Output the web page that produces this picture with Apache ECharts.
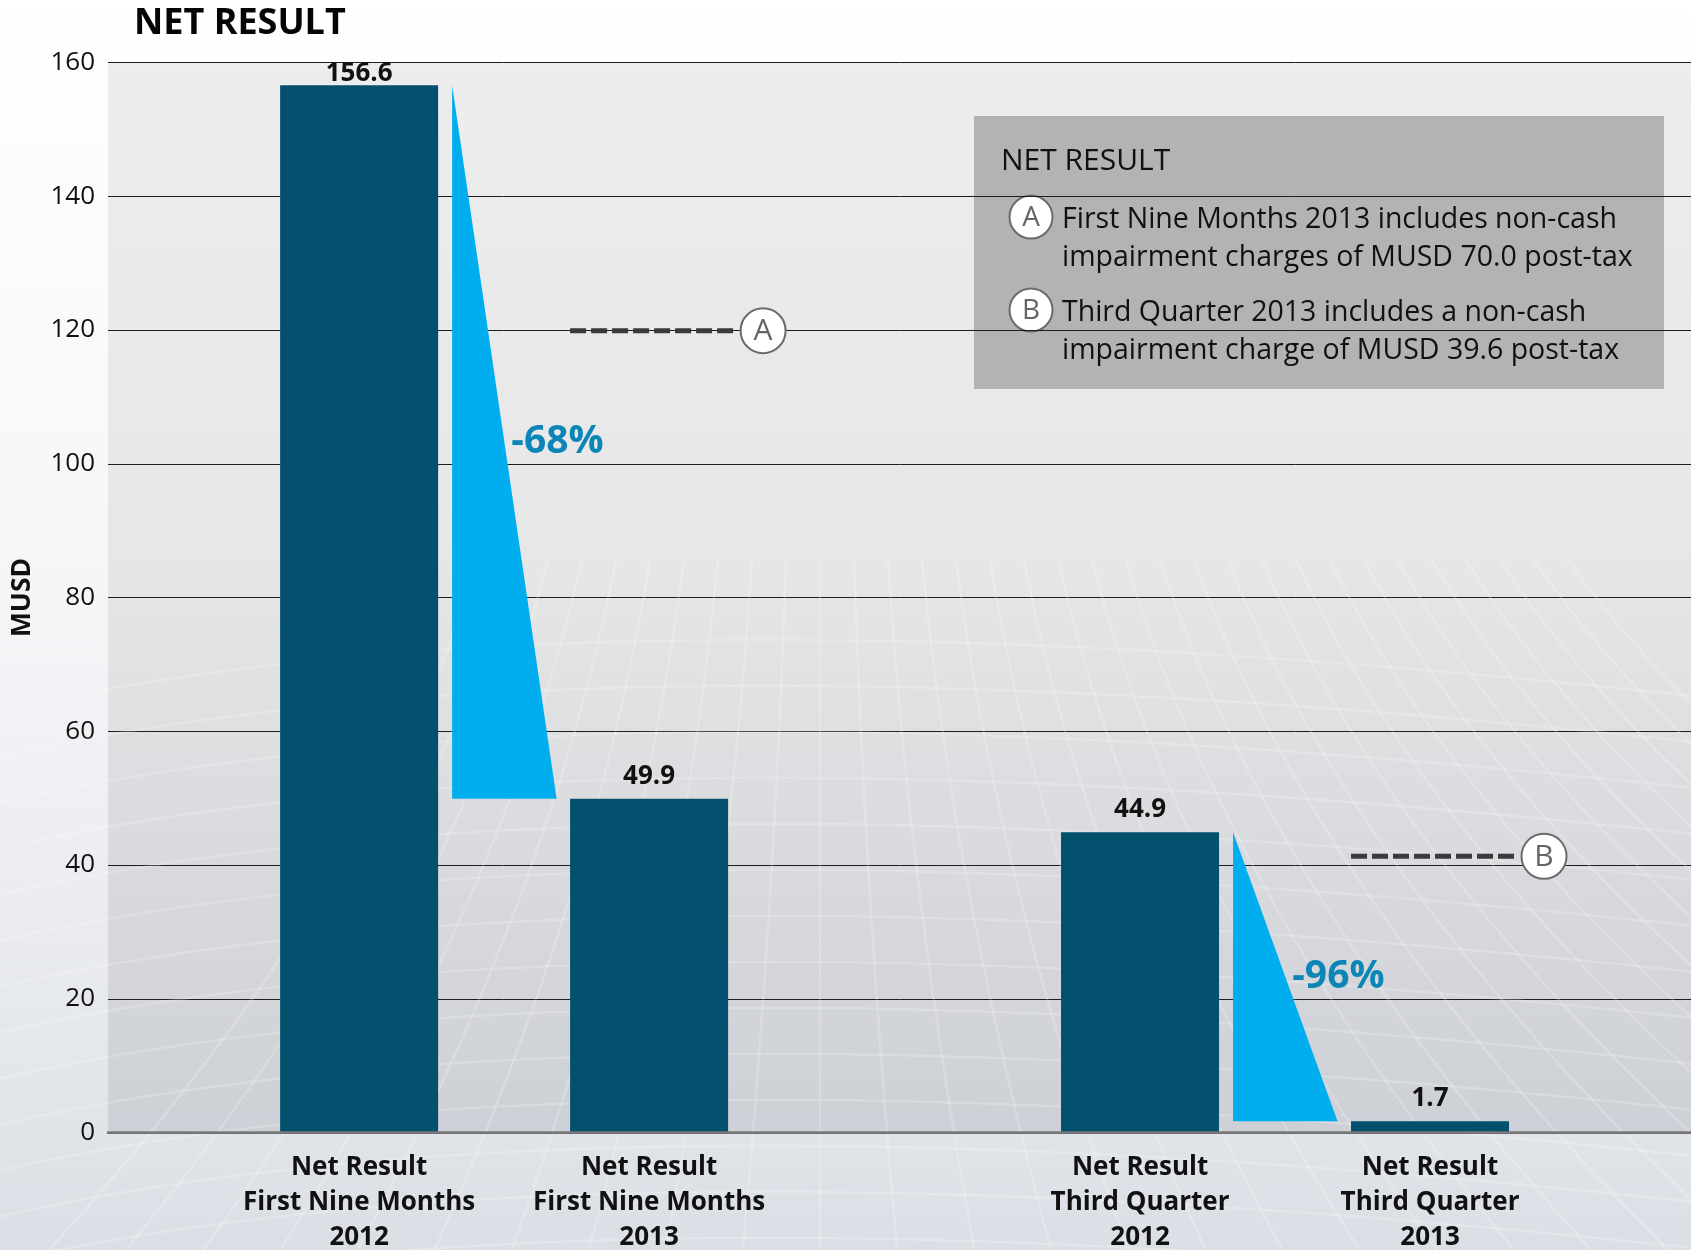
<!DOCTYPE html>
<html>
<head>
<meta charset="utf-8">
<script src="https://cdn.jsdelivr.net/npm/echarts@6/dist/echarts.min.js"></script>
<style>
  html, body { margin: 0; padding: 0; }
  #chart {
    width: 1691px; height: 1250px;
    background: linear-gradient(180deg, #ffffff 0%, #fbfbfc 20%, #f4f5f7 50%, #e9ebef 75%, #dbdfe5 100%);
  }
</style>
</head>
<body>
<div id="chart"></div>
<script>
// ---- data ----
const categories = [
  'Net Result\nFirst Nine Months\n2012',
  'Net Result\nFirst Nine Months\n2013',
  'Net Result\nThird Quarter\n2012',
  'Net Result\nThird Quarter\n2013'
];
const netResult = [156.6, 49.9, 44.9, 1.7];          // MUSD
const impairment = [70.0, 39.6];                      // post-tax charge in the 2013 figure of each pair
const noteLetters = ['A', 'B'];
const noteTitle = 'NET RESULT';
const noteTexts = [
  'First Nine Months 2013 includes non-cash\nimpairment charges of MUSD 70.0 post-tax',
  'Third Quarter 2013 includes a non-cash\nimpairment charge of MUSD 39.6 post-tax'
];
const yMin = 0, yMax = 160, yStep = 20;
const chartTitle = 'NET RESULT';
const yName = 'MUSD';

// ---- layout ----
const FONT = "'Open Sans', 'Noto Sans', sans-serif";
const BAR_W = 158;
const PAIR_GAP = 1.693;          // extra room between the two comparison pairs (in bar steps)
const X_MIN = -0.866, X_MAX = 4.593;
const BAR_COLOR = '#02506e';
const DROP_COLOR = '#00aeef';
const PCT_COLOR = '#0b86b6';

// each pair = [earlier period, later period]
const pairs = [];
for (let i = 0; i < categories.length; i += 2) pairs.push([i, i + 1]);
const xPos = categories.map((c, i) => Math.floor(i / 2) * (1 + PAIR_GAP) + (i % 2));

// faint curved mesh in the lower part of the backdrop
function meshCurves() {
  const out = [];
  const style = { stroke: 'rgba(255,255,255,0.2)', lineWidth: 2.5, fill: null };
  for (let k = 0; k < 14; k++) {
    const y = 660 + k * 46;
    out.push({ type: 'bezierCurve', silent: true, z: 1,
      shape: { x1: -40, y1: y + 60, cpx1: 560, cpy1: y - 90, x2: 1731, y2: y + 40 }, style });
  }
  for (let k = -10; k <= 22; k++) {
    const xTop = 820 + k * 34;
    const xBot = 820 + k * 78;
    out.push({ type: 'bezierCurve', silent: true, z: 1,
      shape: { x1: xTop, y1: 560, cpx1: xTop + (xBot - xTop) * 0.25, cpy1: 900, x2: xBot, y2: 1260 }, style });
  }
  return out;
}

const chart = echarts.init(document.getElementById('chart'), null, { renderer: 'canvas' });

const option = {
  animation: false,
  backgroundColor: 'transparent',
  title: {
    text: chartTitle,
    left: 134, top: 6, padding: 0,
    textStyle: { fontFamily: FONT, fontSize: 36, fontWeight: 'bold', color: '#050505' }
  },
  grid: {
    left: 108, right: 0, top: 62.5, bottom: 117.5,
    containLabel: false, outerBoundsMode: 'none',
    show: true, borderWidth: 0,
    backgroundColor: {
      type: 'linear', x: 0, y: 0, x2: 0, y2: 1,
      colorStops: [
        { offset: 0, color: '#ededed' },
        { offset: 0.45, color: '#e7e7e8' },
        { offset: 0.72, color: '#dadbde' },
        { offset: 1, color: '#cdd0d6' }
      ]
    }
  },
  xAxis: [{
    type: 'value', min: X_MIN, max: X_MAX, z: 3,
    axisLine: { show: true, onZero: false, lineStyle: { color: '#555', width: 2 } },
    axisTick: { show: false },
    splitLine: { show: false },
    axisLabel: {
      customValues: xPos,
      formatter: (v) => {
        const i = xPos.findIndex(p => Math.abs(p - v) < 1e-6);
        return i >= 0 ? categories[i] : '';
      },
      margin: 18,
      fontFamily: FONT, fontSize: 26, fontWeight: 'bold', lineHeight: 35, color: '#111',
      align: 'center'
    }
  }, {
    type: 'value', position: 'top', min: X_MIN, max: X_MAX, z: 3,
    axisLine: { show: true, lineStyle: { color: '#7a7a7a', width: 2.5 } },
    axisTick: { show: false }, axisLabel: { show: false }, splitLine: { show: false }
  }],
  yAxis: {
    type: 'value', min: yMin, max: yMax, interval: yStep,
    axisLine: { show: false }, axisTick: { show: false },
    splitLine: { lineStyle: { color: '#1e1e1e', width: 1 } },
    axisLabel: { fontFamily: FONT, fontSize: 26, color: '#111', margin: 13 },
    name: yName, nameLocation: 'middle', nameRotate: 90, nameGap: 72,
    nameTextStyle: { fontFamily: FONT, fontSize: 26.5, fontWeight: 'bold', color: '#111' }
  },
  series: [
    {
      // result bars with their value on top
      type: 'custom',
      silent: true,
      data: netResult.map((v, i) => [xPos[i], v]),
      encode: { x: 0, y: 1 },
      renderItem: (params, api) => {
        const v = api.value(1);
        const top = api.coord([api.value(0), v]);
        const base = api.coord([api.value(0), 0]);
        // a label close to the top gridline sits tighter on its bar
        const lift = v > yMax - 8 ? 11.6 : 22.5;
        return {
          type: 'group',
          children: [
            { type: 'rect',
              shape: { x: top[0] - BAR_W / 2, y: top[1], width: BAR_W, height: base[1] - top[1] },
              style: { fill: BAR_COLOR } },
            { type: 'text', x: top[0], y: top[1] - lift,
              style: { text: v.toFixed(1), fill: '#111', font: 'bold 26px ' + FONT,
                       textAlign: 'center', textVerticalAlign: 'middle' } }
          ]
        };
      },
      z: 3
    },
    {
      // drop wedge between the two bars of a pair, with the % change
      type: 'custom',
      silent: true,
      data: pairs.map(([a, b]) => [xPos[a], netResult[a], xPos[b], netResult[b]]),
      encode: { x: [0, 2], y: [1, 3] },
      renderItem: (params, api) => {
        const p0 = api.coord([api.value(0), api.value(1)]);
        const p1 = api.coord([api.value(2), api.value(3)]);
        const xl = p0[0] + BAR_W / 2 + 14;
        const xr = p1[0] - BAR_W / 2 - 13.5;
        const pct = Math.round((api.value(3) - api.value(1)) / api.value(1) * 100);
        return {
          type: 'group',
          children: [
            { type: 'polygon', shape: { points: [[xl, p0[1]], [xl, p1[1]], [xr, p1[1]]] },
              style: { fill: DROP_COLOR } },
            { type: 'text', x: (xl + xr) / 2 + 7, y: (p0[1] + p1[1]) / 2,
              style: { text: pct + '%', fill: PCT_COLOR, font: 'bold 39px ' + FONT,
                       textAlign: 'left', textVerticalAlign: 'middle' } }
          ]
        };
      },
      z: 4
    },
    {
      // result before impairment: dashed marker with note letter
      type: 'custom',
      silent: true,
      data: pairs.map(([a, b], k) => [xPos[b], netResult[b] + impairment[k], k]),
      encode: { x: 0, y: 1 },
      renderItem: (params, api) => {
        const c = api.coord([api.value(0), api.value(1)]);
        const r = 22.5;
        const cx = c[0] + BAR_W / 2 + 35;
        const x0 = c[0] - BAR_W / 2;
        return {
          type: 'group',
          children: [
            { type: 'line', shape: { x1: x0, y1: c[1], x2: cx - r - 5, y2: c[1] },
              style: { stroke: '#3a3a3a', lineWidth: 5, lineDash: [16, 5] } },
            { type: 'circle', shape: { cx: cx, cy: c[1], r: r },
              style: { fill: '#fff', stroke: '#6a6a6a', lineWidth: 2 } },
            { type: 'text', x: cx, y: c[1] + 1,
              style: { text: noteLetters[api.value(2)], fill: '#666', font: '30px ' + FONT,
                       textAlign: 'center', textVerticalAlign: 'middle' } }
          ]
        };
      },
      z: 5
    }
  ],
  graphic: [
    ...meshCurves(),
    {
      type: 'group', x: 974, y: 116, z: 10,
      children: [
        { type: 'rect', shape: { x: 0, y: 0, width: 690, height: 273 }, style: { fill: '#b3b3b3' } },
        { type: 'text', x: 27, y: 45.5,
          style: { text: noteTitle, fill: '#111', font: '30px ' + FONT, textVerticalAlign: 'middle' } },
        ...noteTexts.flatMap((t, k) => {
          const cy = 100 + k * 93;
          return [
            { type: 'circle', shape: { cx: 57, cy: cy + 1, r: 21.5 },
              style: { fill: '#fff', stroke: '#6a6a6a', lineWidth: 2 } },
            { type: 'text', x: 57, y: cy + 2,
              style: { text: noteLetters[k], fill: '#666', font: '28px ' + FONT,
                       textAlign: 'center', textVerticalAlign: 'middle' } },
            { type: 'text', x: 88, y: cy + 3.5 - 19.25,
              style: { text: t, fill: '#111', font: '28.5px ' + FONT, lineHeight: 38.5,
                       textAlign: 'left', textVerticalAlign: 'top' } }
          ];
        })
      ]
    }
  ]
};

chart.setOption(option);
</script>
</body>
</html>
